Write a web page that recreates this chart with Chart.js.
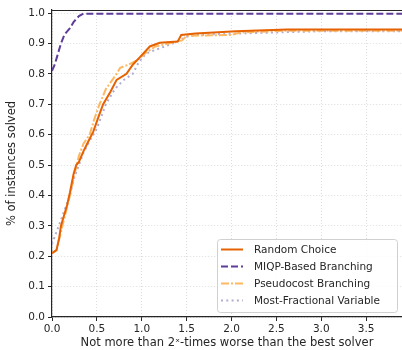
<!DOCTYPE html>
<html>
<head>
<meta charset="utf-8">
<script src="https://cdn.jsdelivr.net/npm/chart.js@4"></script>
<style>
    html, body { margin: 0; padding: 0; background: #fff; }
    #wrap { width: 402px; height: 350px; }
</style>
</head>
<body>
<div id="wrap"><canvas id="chart"></canvas></div>
<script>
// values
const randomX = [0, 0.05, 0.08, 0.1, 0.13, 0.17, 0.2, 0.24, 0.27, 0.3, 0.35, 0.4, 0.46, 0.52, 0.57, 0.65, 0.72, 0.83, 0.9, 0.98, 1.09, 1.2, 1.4, 1.44, 1.6, 2.05, 2.62, 3.9];
const randomY = [0.21, 0.22, 0.26, 0.3, 0.33, 0.37, 0.41, 0.47, 0.5, 0.51, 0.545, 0.575, 0.61, 0.66, 0.7, 0.74, 0.78, 0.8, 0.83, 0.855, 0.89, 0.902, 0.906, 0.928, 0.933, 0.94, 0.946, 0.946];

const miqpX = [0, 0.03, 0.06, 0.1, 0.14, 0.2, 0.24, 0.3, 0.35, 3.9];
const miqpY = [0.81, 0.83, 0.86, 0.9, 0.93, 0.95, 0.97, 0.99, 0.998, 0.998];

const pseudoX = [0, 0.05, 0.1, 0.15, 0.2, 0.25, 0.3, 0.35, 0.42, 0.47, 0.53, 0.6, 0.72, 0.76, 0.85, 0.95, 1.05, 1.15, 1.3, 1.45, 1.5, 2.0, 2.1, 2.62, 3.9];
const pseudoY = [0.21, 0.22, 0.28, 0.34, 0.4, 0.47, 0.53, 0.57, 0.6, 0.65, 0.7, 0.75, 0.8, 0.82, 0.83, 0.845, 0.87, 0.89, 0.9, 0.91, 0.925, 0.928, 0.936, 0.942, 0.942];

const fracX = [0, 0.05, 0.1, 0.15, 0.2, 0.25, 0.3, 0.35, 0.42, 0.5, 0.55, 0.6, 0.7, 0.8, 0.9, 0.97, 1.05, 1.2, 1.35, 1.5, 1.6, 2.1, 2.96, 3.9];
const fracY = [0.24, 0.28, 0.32, 0.36, 0.4, 0.46, 0.5, 0.54, 0.58, 0.62, 0.66, 0.7, 0.75, 0.78, 0.8, 0.84, 0.867, 0.884, 0.9, 0.922, 0.928, 0.933, 0.94, 0.94];

const seriesNames = ['Random Choice', 'MIQP-Based Branching', 'Pseudocost Branching', 'Most-Fractional Variable'];
const xTitle = 'Not more than 2\u02e3-times worse than the best solver';
const yTitle = '% of instances solved';

const toPoints = (xs, ys) => xs.map((x, i) => ({ x: x, y: ys[i] }));
const tickFont = { family: 'DejaVu Sans', size: 10.5 };
const titleFont = { family: 'DejaVu Sans', size: 11.5 };
const ink = '#262626';

// top spine
const topSpine = {
    id: 'topSpine',
    afterDraw(chart) {
        const { ctx, chartArea } = chart;
        ctx.save();
        ctx.strokeStyle = ink;
        ctx.lineWidth = 1.2;
        ctx.beginPath();
        ctx.moveTo(chartArea.left, chartArea.top + 0.5);
        ctx.lineTo(chartArea.right, chartArea.top + 0.5);
        ctx.stroke();
        ctx.restore();
    }
};

// legend box in the lower right of the plot
const boxLegend = {
    id: 'boxLegend',
    afterDraw(chart) {
        const { ctx, chartArea } = chart;
        const w = 180, h = 73;
        const x0 = chartArea.right - w - 5, y0 = chartArea.bottom - h - 5;
        ctx.save();
        ctx.fillStyle = 'rgba(255,255,255,0.85)';
        ctx.strokeStyle = '#d0d0d0';
        ctx.lineWidth = 1;
        ctx.beginPath();
        ctx.roundRect(x0 + 0.5, y0 + 0.5, w, h, 3);
        ctx.fill();
        ctx.stroke();
        ctx.font = '10.5px "DejaVu Sans"';
        ctx.textBaseline = 'middle';
        chart.data.datasets.forEach((ds, i) => {
            const y = y0 + 10.5 + i * 17;
            ctx.strokeStyle = ds.borderColor;
            ctx.lineWidth = ds.borderWidth;
            ctx.setLineDash(ds.borderDash || []);
            ctx.beginPath();
            ctx.moveTo(x0 + 4, y);
            ctx.lineTo(x0 + 26, y);
            ctx.stroke();
            ctx.setLineDash([]);
            ctx.fillStyle = ink;
            ctx.fillText(ds.label, x0 + 37, y + 0.5);
        });
        ctx.restore();
    }
};

new Chart(document.getElementById('chart'), {
    type: 'line',
    data: {
        datasets: [
            {
                label: seriesNames[0],
                data: toPoints(randomX, randomY),
                borderColor: '#e66101',
                borderWidth: 2,
                order: 1
            },
            {
                label: seriesNames[1],
                data: toPoints(miqpX, miqpY),
                borderColor: '#5e3c99',
                borderWidth: 2,
                borderDash: [7, 3],
                order: 2
            },
            {
                label: seriesNames[2],
                data: toPoints(pseudoX, pseudoY),
                borderColor: '#fdb863',
                borderWidth: 2,
                borderDash: [8, 2, 2, 2],
                order: 3
            },
            {
                label: seriesNames[3],
                data: toPoints(fracX, fracY),
                borderColor: '#b2abd2',
                borderWidth: 2,
                borderDash: [2, 3.3],
                order: 4
            }
        ]
    },
    options: {
        responsive: true,
        maintainAspectRatio: false,
        animation: false,
        elements: { point: { radius: 0 }, line: { tension: 0, fill: false } },
        layout: { padding: { top: 10, right: 0, left: 0, bottom: 0 } },
        plugins: {
            legend: { display: false },
            tooltip: { enabled: false }
        },
        scales: {
            x: {
                type: 'linear',
                min: 0,
                max: 3.9,
                afterFit: (s) => { s.height = 33; },
                ticks: {
                    stepSize: 0.5,
                    includeBounds: false,
                    maxRotation: 0,
                    padding: 2,
                    color: ink,
                    font: tickFont,
                    callback: (v) => v.toFixed(1)
                },
                grid: { color: '#d4d4d4', lineWidth: 0.8, tickLength: 4, tickColor: ink, tickWidth: 1, tickBorderDash: [] },
                border: { color: ink, width: 1.2, dash: [1, 2] },
                title: { display: true, text: xTitle, color: ink, font: titleFont, padding: { top: 0, bottom: 0 } }
            },
            y: {
                min: 0,
                max: 1.01,
                afterFit: (s) => { s.width = 52; },
                ticks: {
                    stepSize: 0.1,
                    includeBounds: false,
                    padding: 3,
                    color: ink,
                    font: tickFont,
                    callback: (v) => v.toFixed(1)
                },
                grid: { color: '#d4d4d4', lineWidth: 0.8, tickLength: 4, tickColor: ink, tickWidth: 1, tickBorderDash: [] },
                border: { color: ink, width: 1.2, dash: [1, 2] },
                title: { display: true, text: yTitle, color: ink, font: titleFont, padding: { top: 5, bottom: 0 } }
            }
        }
    },
    plugins: [topSpine, boxLegend]
});
</script>
</body>
</html>
